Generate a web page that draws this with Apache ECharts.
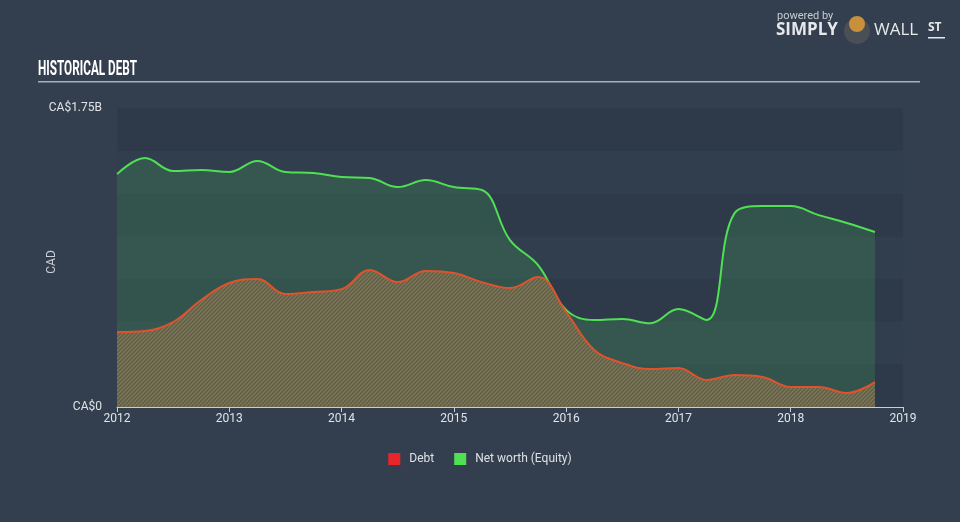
<!DOCTYPE html>
<html><head><meta charset="utf-8">
<script src="https://cdn.jsdelivr.net/npm/echarts@6/dist/echarts.min.js"></script>
<style>html,body{margin:0;padding:0;background:#333f4e;}#c{width:960px;height:522px;}</style>
</head><body><div id="c"></div>
<script>
// ---- data (values in CA$ billions) ----
var dates = [2012.0,2012.25,2012.5,2012.75,2013.0,2013.25,2013.5,2013.75,2014.0,2014.25,2014.5,2014.75,2015.0,2015.25,2015.5,2015.75,2016.0,2016.25,2016.5,2016.75,2017.0,2017.25,2017.5,2017.75,2018.0,2018.25,2018.5,2018.75];
var debt = [0.439,0.445,0.497,0.626,0.726,0.749,0.661,0.673,0.690,0.802,0.731,0.796,0.784,0.731,0.696,0.761,0.556,0.334,0.257,0.222,0.228,0.158,0.187,0.176,0.117,0.117,0.082,0.146];
var equity = [1.363,1.457,1.381,1.387,1.375,1.440,1.375,1.369,1.346,1.340,1.287,1.328,1.287,1.270,0.977,0.830,0.568,0.509,0.515,0.490,0.573,0.509,1.135,1.176,1.176,1.123,1.077,1.024];
var xTicks = [2012,2013,2014,2015,2016,2017,2018,2019];
var yLabels = {0:'CA$0', 1.75:'CA$1.75B'};

function pair(xs, ys){ return xs.map(function(x,i){return [x, ys[i]];}); }

// hatch pattern for debt area
var pc = document.createElement('canvas'); pc.width = 4; pc.height = 4;
var g = pc.getContext('2d');
g.fillStyle = '#4a6b54'; g.fillRect(0,0,4,4);
g.strokeStyle = '#c2623a'; g.lineWidth = 1.1;
g.beginPath();
g.moveTo(0,4); g.lineTo(4,0);
g.moveTo(-1,1); g.lineTo(1,-1);
g.moveTo(3,5); g.lineTo(5,3);
g.stroke();

var chart = echarts.init(document.getElementById('c'), null, {renderer:'canvas'});
var font = 'Roboto, "Noto Sans", sans-serif';
chart.setOption({
  backgroundColor: '#333f4e',
  animation: false,
  grid: {left:117, right:57, top:108, bottom:115},
  legend: {bottom:52, left:'center', itemWidth:12, itemHeight:12, itemGap:20, icon:'rect',
    textStyle:{color:'#dde1e5', fontSize:12, fontFamily:font, padding:[0,0,0,4]},
    data:[{name:'Debt', itemStyle:{color:'#e8262a'}}, {name:'Net worth (Equity)', itemStyle:{color:'#4fe054'}}]},
  xAxis: {type:'value', min:2012, max:2019, interval:1,
    axisLine:{lineStyle:{color:'#c8ced6'}},
    axisTick:{show:true, length:5, lineStyle:{color:'#c8ced6'}},
    splitLine:{show:false},
    axisLabel:{color:'#e0e4e8', fontSize:12, fontFamily:font, margin:6, formatter:function(v){return xTicks.indexOf(v)>=0?String(v):'';}}},
  yAxis: {type:'value', min:0, max:1.75, interval:0.25,
    axisLine:{show:false}, axisTick:{show:false},
    splitLine:{show:false},
    splitArea:{show:true, areaStyle:{color:['#2e3a4a','#313e4e']}},
    axisLabel:{color:'#e0e4e8', fontSize:12, fontFamily:font, margin:15,
      formatter:function(v){ return yLabels[v] !== undefined ? yLabels[v] : ''; }}},
  graphic: [
    {type:'text', x:38, y:59, scaleX:0.56, style:{text:'HISTORICAL DEBT', fill:'#ffffff', font:'bold 21px Roboto, sans-serif'}},
    {type:'rect', shape:{x:38, y:81, width:882, height:1.5}, style:{fill:'#a9b0b9'}},
    {type:'text', x:52, y:262, rotation:Math.PI/2, style:{text:'CAD', fill:'#c8ced6', font:'12px Roboto, sans-serif', align:'center', verticalAlign:'middle'}},
    {type:'text', left:777, top:11, style:{text:'powered by', fill:'#c8ccd2', font:'11px Roboto, sans-serif'}},
    {type:'text', left:776, top:22, style:{text:'SIMPLY', fill:'#e6e8ea', font:'bold 17px "Open Sans", sans-serif'}},
    {type:'circle', shape:{cx:857, cy:31, r:13}, style:{fill:'#4a4f55'}},
    {type:'circle', shape:{cx:857, cy:24, r:8}, style:{fill:'#c8903a'}},
    {type:'text', left:874, top:22, style:{text:'WALL', fill:'#e6e8ea', font:'17px "Open Sans", sans-serif'}},
    {type:'text', left:928, top:22, style:{text:'ST', fill:'#e6e8ea', font:'bold 12px "Open Sans", sans-serif'}},
    {type:'rect', shape:{x:928, y:37, width:17, height:1.5}, style:{fill:'#e6e8ea'}}
  ],
  series: [
    {name:'Net worth (Equity)', type:'line', smooth:0.4, symbol:'none', data:pair(dates, equity),
      lineStyle:{color:'#4fe054', width:2}, itemStyle:{color:'#4fe054'},
      areaStyle:{color:'rgba(70,175,90,0.32)'}, z:2},
    {name:'Debt', type:'line', smooth:0.4, symbol:'none', data:pair(dates, debt),
      lineStyle:{color:'#e0522c', width:2}, itemStyle:{color:'#e8262a'},
      areaStyle:{color:{image:pc, repeat:'repeat'}, opacity:1}, z:3}
  ]
});
</script></body></html>
